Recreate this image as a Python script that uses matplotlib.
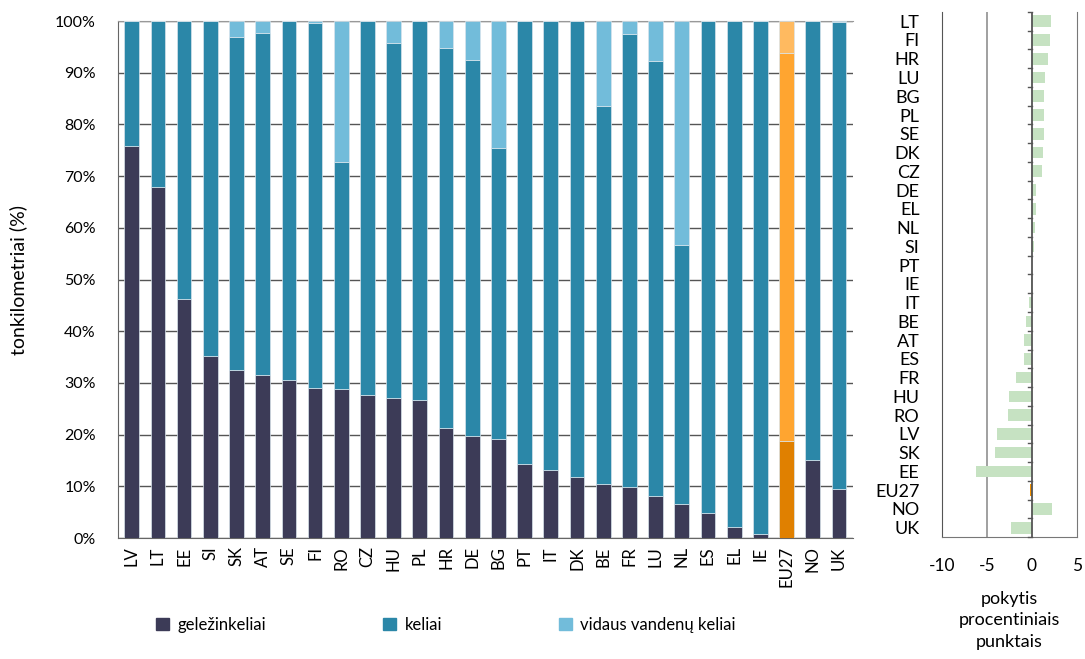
import matplotlib
matplotlib.use("Agg")
import matplotlib.pyplot as plt
import numpy as np
from matplotlib.patches import Patch

plt.rcParams['font.family'] = ['Lato', 'DejaVu Sans']

countries = ["LV", "LT", "EE", "SI", "SK", "AT", "SE", "FI", "RO", "CZ", "HU", "PL", "HR", "DE",
             "BG", "PT", "IT", "DK", "BE", "FR", "LU", "NL", "ES", "EL", "IE", "EU27", "NO", "UK"]
rail = [75.8, 67.9, 46.2, 35.2, 32.5, 31.5, 30.5, 29.0, 28.8, 27.6, 27.0, 26.6, 21.2, 19.7,
        19.2, 14.3, 13.1, 11.8, 10.4, 9.8, 8.1, 6.5, 4.9, 2.1, 0.7, 18.7, 15.0, 9.4]
road = [24.2, 32.1, 53.8, 64.8, 64.5, 66.2, 69.5, 70.6, 44.0, 72.4, 68.8, 73.4, 73.5, 72.8,
        56.3, 85.7, 86.9, 88.2, 73.2, 87.7, 84.2, 50.2, 95.1, 97.9, 99.3, 75.1, 85.0, 90.5]
water = [0.0, 0.0, 0.0, 0.0, 3.0, 2.3, 0.0, 0.4, 27.2, 0.0, 4.2, 0.0, 5.3, 7.5,
         24.5, 0.0, 0.0, 0.0, 16.4, 2.5, 7.7, 43.3, 0.0, 0.0, 0.0, 6.2, 0.0, 0.1]

change_countries = ["LT", "FI", "HR", "LU", "BG", "PL", "SE", "DK", "CZ", "DE", "EL", "NL", "SI", "PT",
                    "IE", "IT", "BE", "AT", "ES", "FR", "HU", "RO", "LV", "SK", "EE", "EU27", "NO", "UK"]
change = [2.1, 2.0, 1.85, 1.47, 1.4, 1.33, 1.33, 1.22, 1.1, 0.52, 0.44, 0.33, 0.22, 0.0,
          -0.03, -0.3, -0.67, -0.81, -0.85, -1.74, -2.5, -2.67, -3.9, -4.04, -6.15, -0.15, 2.26, -2.26]

c_rail, c_road, c_water = "#3C3B57", "#2B87A8", "#72BCDA"
e_rail, e_road, e_water = "#E08000", "#FFA530", "#FFBA60"

fig = plt.figure(figsize=(10.85, 6.59), dpi=100)

ax = fig.add_axes([0.1088, 0.1836, 0.677, 0.7845])
x = np.arange(len(countries))
rail_a = np.array(rail); road_a = np.array(road); water_a = np.array(water)
cr = [e_rail if c == "EU27" else c_rail for c in countries]
cd = [e_road if c == "EU27" else c_road for c in countries]
cw = [e_water if c == "EU27" else c_water for c in countries]
w = 0.56
ax.bar(x, rail_a, w, color=cr, edgecolor="#D8E4EC", linewidth=0.5, zorder=3)
ax.bar(x, road_a, w, bottom=rail_a, color=cd, edgecolor="#D8E4EC", linewidth=0.5, zorder=3)
ax.bar(x, water_a, w, bottom=rail_a + road_a, color=cw, edgecolor="#D8E4EC", linewidth=0.5, zorder=3)
ax.set_xlim(-0.52, len(countries) - 0.48)
ax.set_ylim(0, 100)
ax.set_yticks(np.arange(0, 101, 10))
ax.set_yticklabels([f"{v}%" for v in range(0, 101, 10)], fontsize=11.5)
ax.set_xticks(x)
ax.set_xticklabels(countries, rotation=90, fontsize=12)
ax.tick_params(axis='x', length=0, pad=6)
ax.tick_params(axis='y', length=0, pad=16)
ax.yaxis.grid(True, color="#555555", linewidth=1.0, zorder=0)
ax.set_axisbelow(True)
ax.spines["right"].set_visible(False)
ax.spines["top"].set_color("#999999")
ax.spines["left"].set_color("#666666")
ax.spines["bottom"].set_color("#666666")
ax.set_ylabel("tonkilometriai (%)", fontsize=14, labelpad=20)

handles = [Patch(color=c_rail), Patch(color=c_road), Patch(color=c_water)]
fig.legend(handles, ["geležinkeliai", "keliai", "vidaus vandenų keliai"], loc="center",
           bbox_to_anchor=(0.411, 0.052), ncol=3, frameon=False, fontsize=12,
           handlelength=0.8, handleheight=0.8, handletextpad=0.5, columnspacing=7.0)

ax2 = fig.add_axes([0.868, 0.185, 0.1244, 0.797])
y = np.arange(len(change_countries))
cols = ["#F39200" if c == "EU27" else "#C6E2C2" for c in change_countries]
ax2.barh(y, change, height=0.62, color=cols, zorder=3)
ax2.set_ylim(len(change_countries) - 0.5, -0.5)
ax2.set_xlim(-10, 5)
ax2.set_xticks([-10, -5, 0, 5])
ax2.set_xticklabels(["-10", "-5", "0", "5"], fontsize=12.5)
ax2.tick_params(axis='x', length=0, pad=15)
ax2.set_yticks(y)
ax2.set_yticklabels(change_countries, fontsize=13)
ax2.tick_params(axis='y', length=0, pad=16)
ax2.axvline(-5, color="#999999", linewidth=1.3, zorder=1)
ax2.axvline(0, color="#555555", linewidth=1.3, zorder=4)
for b in np.arange(-0.5, len(change_countries) + 0.5, 1):
    ax2.plot([-0.45, 0], [b, b], color="#555555", linewidth=1.0, zorder=4, clip_on=False)
ax2.spines["top"].set_visible(False)
ax2.spines["left"].set_color("#555555")
ax2.spines["right"].set_color("#777777")
ax2.spines["bottom"].set_color("#777777")
ax2.set_xlabel("pokytis\nprocentiniais\npunktais", fontsize=13, labelpad=12, linespacing=1.45)

fig.savefig("out.png", dpi=100)
